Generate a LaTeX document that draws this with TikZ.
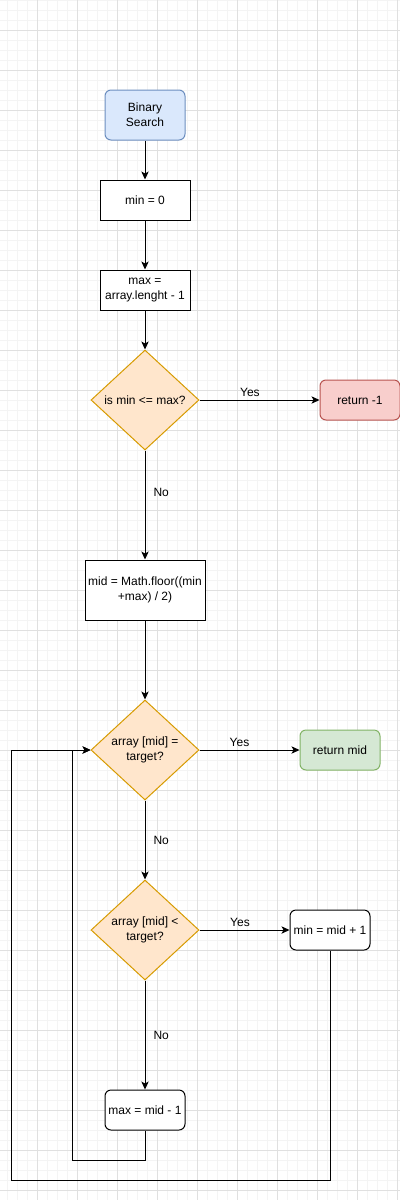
\documentclass[tikz,border=0pt]{standalone}
\usepackage{fontspec}
\setmainfont{Liberation Sans}
\usetikzlibrary{arrows.meta,shapes.geometric}

\definecolor{startfill}{HTML}{DAE8FC}
\definecolor{startline}{HTML}{6C8EBF}
\definecolor{askfill}{HTML}{FFE6CC}
\definecolor{askline}{HTML}{D79B00}
\definecolor{failfill}{HTML}{F8CECC}
\definecolor{failline}{HTML}{B85450}
\definecolor{foundfill}{HTML}{D5E8D4}
\definecolor{foundline}{HTML}{82B366}
\definecolor{gridminor}{HTML}{F4F4F4}
\definecolor{gridmajor}{HTML}{E0E0E0}

\begin{document}
\begin{tikzpicture}[x=0.75pt,y=-0.75pt,font=\fontsize{9}{11.25}\selectfont,
	box/.style={draw,line width=0.75pt,fill=white,align=center,inner sep=1pt,minimum width=67.5pt,minimum height=30pt},
	roundbox/.style={box,rounded corners=4.5pt,minimum width=60pt},
	ask/.style={diamond,draw=askline,fill=askfill,line width=0.75pt,align=center,inner sep=0pt,aspect=1.1,minimum width=81pt,minimum height=75pt},
	flow/.style={line width=0.75pt,->,>={Stealth[length=6pt,width=5.5pt,inset=1.5pt]}},
	answer/.style={inner sep=2pt}]
			% background grid
			\useasboundingbox (0,0) rectangle (400,1200);
			\fill[white] (0,0) rectangle (400,1200);
			\foreach \gx in {7.5,17.5,...,400} \draw[gridminor,line width=0.5pt] (\gx,0) -- (\gx,1200);
			\foreach \gy in {0,10,...,1200} \draw[gridminor,line width=0.5pt] (0,\gy) -- (400,\gy);
			\foreach \gx in {37.5,77.5,...,400} \draw[gridmajor,line width=0.6pt] (\gx,0) -- (\gx,1200);
			\foreach \gy in {30,70,...,1200} \draw[gridmajor,line width=0.6pt] (0,\gy) -- (400,\gy);
			
			\node (start) [roundbox,draw=startline,fill=startfill,minimum height=37.5pt] at (145,115) {Binary\\Search};
			\node (setmin) [box,below of=start,node distance=63.75pt] {min = 0};
			\node (setmax) [box,below of=setmin,node distance=67.5pt] {max =\\array.lenght - 1};
			\node (check) [ask,below of=setmax,node distance=82.5pt] {is min {<}= max?};
			\node (fail) [roundbox,draw=failline,fill=failfill,right of=check,node distance=161.25pt] {return -1};
			\node (mid) [box,below of=check,node distance=142.5pt,minimum width=90pt,minimum height=45pt] {mid = Math.floor((min\\+max) / 2)};
			\node (equal) [ask,below of=mid,node distance=120pt] {array [mid] =\\target?};
			\node (found) [roundbox,draw=foundline,fill=foundfill,right of=equal,node distance=146.25pt] {return mid};
			\node (less) [ask,below of=equal,node distance=135pt] {array [mid] {<}\\target?};
			\node (inc) [roundbox,right of=less,node distance=138.75pt] {min = mid + 1};
			\node (dec) [roundbox,below of=less,node distance=135pt] {max = mid - 1};
			\coordinate (backin) at (72,1160);
			\coordinate (backout) at (11,1180);
			
			\draw [flow] (start) -- (setmin);
			\draw [flow] (setmin) -- (setmax);
			\draw [flow] (setmax) -- (check);
			\draw [flow] (check) -- node [answer,above,pos=0.42] {Yes} (fail);
			\draw [flow] (check) -- node [answer,right,pos=0.38,xshift=4pt] {No} (mid);
			\draw [flow] (mid) -- (equal);
			\draw [flow] (equal) -- node [answer,above,pos=0.4] {Yes} (found);
			\draw [flow] (equal) -- node [answer,right,xshift=4pt] {No} (less);
			\draw [flow] (less) -- node [answer,above,pos=0.45] {Yes} (inc);
			\draw [flow] (less) -- node [answer,right,xshift=4pt] {No} (dec);
			\draw [flow] (dec.south) |- (backin) |- (equal.west);
			\draw [flow] (inc.south) |- (backout) |- (equal.west);
		\end{tikzpicture}
\end{document}
